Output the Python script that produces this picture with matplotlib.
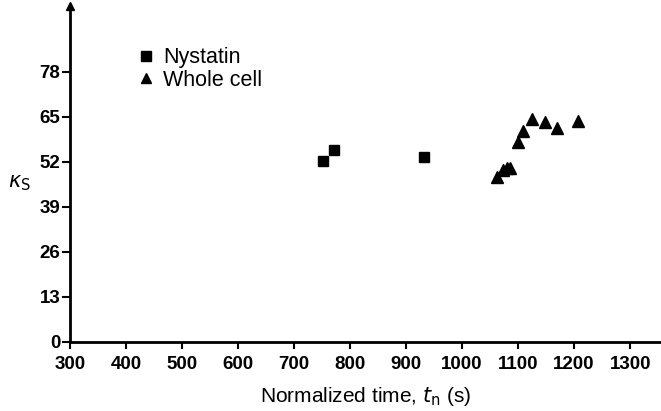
import matplotlib
matplotlib.use("Agg")
import matplotlib.pyplot as plt
from matplotlib.lines import Line2D

# Data
nystatin_t = [751, 771, 932]
nystatin_k = [52.4, 55.4, 53.4]
whole_t = [1062, 1073, 1080, 1086, 1099, 1109, 1124, 1148, 1170, 1207]
whole_k = [47.6, 49.7, 50.2, 50.3, 57.9, 60.8, 64.4, 63.4, 61.7, 63.8]
x_ticks = [300, 400, 500, 600, 700, 800, 900, 1000, 1100, 1200, 1300]
y_ticks = [0, 13, 26, 39, 52, 65, 78]

plt.rcParams['font.family'] = ['Liberation Sans', 'DejaVu Sans']

fig = plt.figure(figsize=(6.61, 4.11), dpi=100)
ax = fig.add_axes([0.1059, 0.168, 0.894, 0.817])

ax.plot(nystatin_t, nystatin_k, linestyle='none', marker='s', markersize=7.3,
        color='black', label='Nystatin')
ax.plot(whole_t, whole_k, linestyle='none', marker='^', markersize=8,
        color='black', label='Whole cell')

ax.set_xlim(300, 1355)
ax.set_ylim(0, 97)
ax.set_xticks(x_ticks)
ax.set_yticks(y_ticks)
ax.set_xticklabels([str(v) for v in x_ticks], fontsize=13.5, fontweight='bold')
ax.set_yticklabels([str(v) for v in y_ticks], fontsize=13.5, fontweight='bold')
ax.tick_params(axis='x', direction='out', length=5, width=1.5, pad=5)
ax.tick_params(axis='y', direction='out', length=5.5, width=1.5, pad=1.5)

for s in ['top', 'right']:
    ax.spines[s].set_visible(False)
for s in ['left', 'bottom']:
    ax.spines[s].set_linewidth(2)

# arrow on y axis
ax.plot([300], [97], marker='^', markersize=6, color='black', clip_on=False)

ax.set_xlabel(r'Normalized time, $t_\mathrm{n}$ (s)', fontsize=15, labelpad=9)
fig.text(0.03, 0.555, r'$\kappa_\mathrm{S}$', fontsize=15, ha='center', va='center')

handles = [Line2D([], [], linestyle='none', marker='s', markersize=7.3, color='black'),
           Line2D([], [], linestyle='none', marker='^', markersize=7, color='black')]
leg = fig.legend(handles, ['Nystatin', 'Whole cell'], loc='upper left',
                 bbox_to_anchor=(0.208, 0.885), frameon=False, fontsize=15.5,
                 handlelength=0.8, handletextpad=0.4, labelspacing=0.08,
                 borderaxespad=0, borderpad=0)

fig.savefig('out.png', dpi=100)
